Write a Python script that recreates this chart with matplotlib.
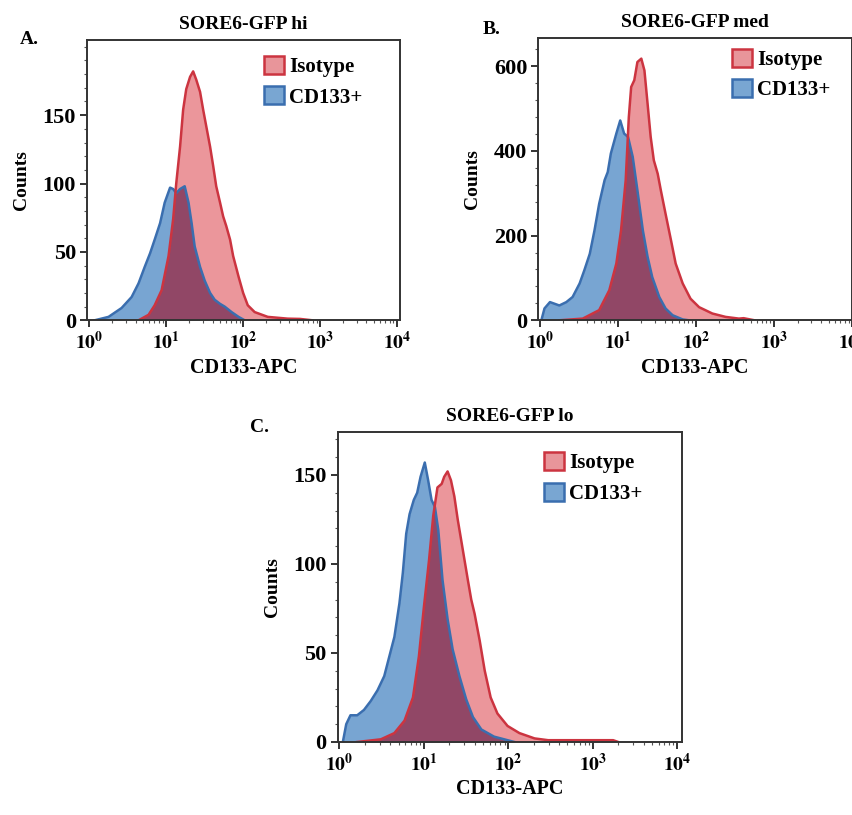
import numpy as np
import matplotlib.pyplot as plt
import matplotlib.transforms as mtransforms
from matplotlib.patches import Patch
from matplotlib.ticker import FixedLocator, LogLocator, MultipleLocator, NullFormatter

plt.rcParams['font.family'] = 'Liberation Serif'
plt.rcParams['font.weight'] = 'bold'
plt.rcParams['mathtext.fontset'] = 'stix'

# histogram outlines, x in decades (log10 of CD133-APC), y in counts
a_iso_x = [0.64, 0.77, 0.85, 0.94, 1.03, 1.09, 1.13, 1.18, 1.22, 1.26, 1.31, 1.35, 1.39, 1.44, 1.48,
           1.52, 1.57, 1.61, 1.65, 1.70, 1.74, 1.78, 1.83, 1.87, 1.94, 2.00, 2.06, 2.15, 2.32, 2.58,
           2.74, 2.9]
a_iso_y = [0, 4, 11, 22, 47, 74, 100, 127, 154, 169, 178, 182, 176, 167, 154,
           142, 127, 113, 98, 86, 76, 69, 59, 47, 32, 20, 11, 6, 2.5, 1.2,
           1, 0]
a_cd_x = [0.07, 0.25, 0.42, 0.55, 0.64, 0.72, 0.79, 0.85, 0.92, 0.98, 1.05, 1.09, 1.13, 1.18, 1.24,
          1.29, 1.33, 1.37, 1.44, 1.50, 1.57, 1.63, 1.70, 1.76, 1.85, 1.94, 2.02]
a_cd_y = [0, 2.5, 9, 17, 27, 39, 49, 59, 71, 86, 97, 96, 93, 96, 98,
          86, 71, 54, 39, 29, 20, 15, 12, 10, 6, 2.5, 0]

b_iso_x = [0.25, 0.55, 0.76, 0.89, 0.98, 1.04, 1.10, 1.14, 1.17, 1.21, 1.25, 1.30, 1.34, 1.38, 1.42,
           1.46, 1.51, 1.55, 1.61, 1.68, 1.74, 1.83, 1.93, 2.04, 2.21, 2.38, 2.55, 2.61, 2.75]
b_iso_y = [0, 4, 24, 71, 134, 212, 331, 480, 551, 567, 610, 618, 590, 512, 433,
           378, 346, 307, 252, 189, 134, 87, 51, 31, 16, 8, 4, 5, 0]
b_cd_x = [0.02, 0.06, 0.13, 0.19, 0.25, 0.34, 0.42, 0.51, 0.57, 0.64, 0.70, 0.76, 0.83, 0.87, 0.91,
          0.98, 1.03, 1.08, 1.13, 1.19, 1.25, 1.32, 1.38, 1.44, 1.53, 1.61, 1.70, 1.83, 1.91]
b_cd_y = [0, 28, 43, 39, 35, 43, 55, 87, 118, 157, 212, 275, 331, 350, 394,
          441, 472, 441, 433, 386, 307, 212, 150, 102, 55, 28, 12, 2, 0]

c_iso_x = [0.21, 0.49, 0.65, 0.77, 0.87, 0.94, 1.00, 1.06, 1.11, 1.16, 1.21, 1.24, 1.28, 1.32, 1.36,
           1.40, 1.46, 1.52, 1.56, 1.60, 1.66, 1.72, 1.79, 1.87, 1.99, 2.13, 2.31, 2.47, 3.24, 3.3]
c_iso_y = [0, 1.5, 5, 12, 25, 48, 76, 102, 127, 143, 145, 149, 152, 147, 138,
           125, 108, 91, 80, 72, 57, 40, 25, 16, 9, 5, 2, 1, 1, 0]
c_cd_x = [0.04, 0.08, 0.13, 0.21, 0.29, 0.37, 0.45, 0.53, 0.59, 0.65, 0.71, 0.75, 0.79, 0.83, 0.88,
          0.92, 0.96, 1.01, 1.05, 1.09, 1.13, 1.17, 1.22, 1.28, 1.34, 1.42, 1.50, 1.58, 1.68, 1.83,
          1.99, 2.07]
c_cd_y = [0, 10, 15, 15, 18, 23, 29, 37, 48, 59, 78, 95, 117, 128, 136,
          140, 149, 157, 147, 136, 132, 119, 91, 69, 52, 37, 24, 14, 7, 3,
          1, 0]

titles = ['SORE6-GFP hi', 'SORE6-GFP med', 'SORE6-GFP lo']
letters = ['A.', 'B.', 'C.']
yticks = [[0, 50, 100, 150], [0, 200, 400, 600], [0, 50, 100, 150]]
ylims = [205, 666, 174]
xlims = [(-0.03, 4.04), (-0.02, 4.0), (-0.02, 4.05)]
decades = [0, 1, 2, 3, 4]

red_fill = '#de5058'
red_line = '#cc3440'
blue_fill = '#1e69b4'
blue_line = '#3a6eaf'
overlap = '#6e1e46'

fig = plt.figure(figsize=(8.53, 8.15), dpi=100)
positions = [[0.102, 0.607, 0.367, 0.344],
             [0.631, 0.607, 0.368, 0.346],
             [0.396, 0.0896, 0.403, 0.380]]
legend_anchor = [(0.94, 1.01), (0.99, 1.03), (0.94, 0.996)]
letter_pos = [(20, 40), (483, 30), (250, 428)]
data = [(a_iso_x, a_iso_y, a_cd_x, a_cd_y),
        (b_iso_x, b_iso_y, b_cd_x, b_cd_y),
        (c_iso_x, c_iso_y, c_cd_x, c_cd_y)]

shift = mtransforms.ScaledTranslation(4 / 100, 0, fig.dpi_scale_trans)

for i, pos in enumerate(positions):
    ax = fig.add_axes(pos)
    iso_x, iso_y, cd_x, cd_y = data[i]
    cx = 10 ** np.array(cd_x)
    rx = 10 ** np.array(iso_x)
    ax.fill_between(cx, cd_y, 0, color=blue_fill, alpha=0.6, lw=0)
    ax.plot(cx, cd_y, color=blue_line, lw=1.8)
    ax.fill_between(rx, iso_y, 0, color=red_fill, alpha=0.6, lw=0)
    # darker shade where the two histograms overlap
    grid = np.linspace(min(cd_x[0], iso_x[0]), max(cd_x[-1], iso_x[-1]), 800)
    low = np.minimum(np.interp(grid, cd_x, cd_y, left=0, right=0),
                     np.interp(grid, iso_x, iso_y, left=0, right=0))
    ax.fill_between(10 ** grid, low, 0, color=overlap, alpha=0.5, lw=0)
    ax.plot(rx, iso_y, color=red_line, lw=1.8)

    ax.set_xscale('log')
    ax.set_xlim(10 ** xlims[i][0], 10 ** xlims[i][1])
    ax.set_ylim(0, ylims[i])
    ax.xaxis.set_major_locator(FixedLocator([10 ** d for d in decades]))
    ax.set_xticklabels([r'$\mathbf{10^{%d}}$' % d for d in decades], fontsize=14)
    for lab in ax.get_xticklabels():
        lab.set_transform(lab.get_transform() + shift)
    ax.xaxis.set_minor_locator(LogLocator(base=10, subs=np.arange(2, 10)))
    ax.xaxis.set_minor_formatter(NullFormatter())
    ax.set_yticks(yticks[i])
    ax.set_yticklabels([str(t) for t in yticks[i]], fontsize=16, fontweight='bold')
    ax.yaxis.set_minor_locator(MultipleLocator(yticks[i][1] / 5))
    ax.tick_params(which='major', length=5, width=1.4, color='#333333', pad=3)
    ax.tick_params(which='minor', length=2.5, width=0.8, color='#555555')
    for s in ax.spines.values():
        s.set_linewidth(1.4)
        s.set_color('#333333')

    ax.set_title(titles[i], fontsize=14, fontweight='bold', pad=8)
    ax.set_ylabel('Counts', fontsize=14, fontweight='bold', labelpad=9)
    ax.set_xlabel('CD133-APC', fontsize=14.5, fontweight='bold', labelpad=3)

    handles = [Patch(facecolor='#e8959a', edgecolor=red_line, lw=1.8, label='Isotype'),
               Patch(facecolor='#79a6d2', edgecolor=blue_line, lw=1.8, label='CD133+')]
    ax.legend(handles=handles, loc='upper right', frameon=False,
              handlelength=0.95, handleheight=0.95, handletextpad=0.25, labelspacing=0.45,
              prop={'weight': 'bold', 'size': 15}, bbox_to_anchor=legend_anchor[i])

    lx, ly = letter_pos[i]
    fig.text(lx / 853, 1 - ly / 815, letters[i], fontsize=14, fontweight='bold', va='center')

fig.savefig('out.png', dpi=100)
